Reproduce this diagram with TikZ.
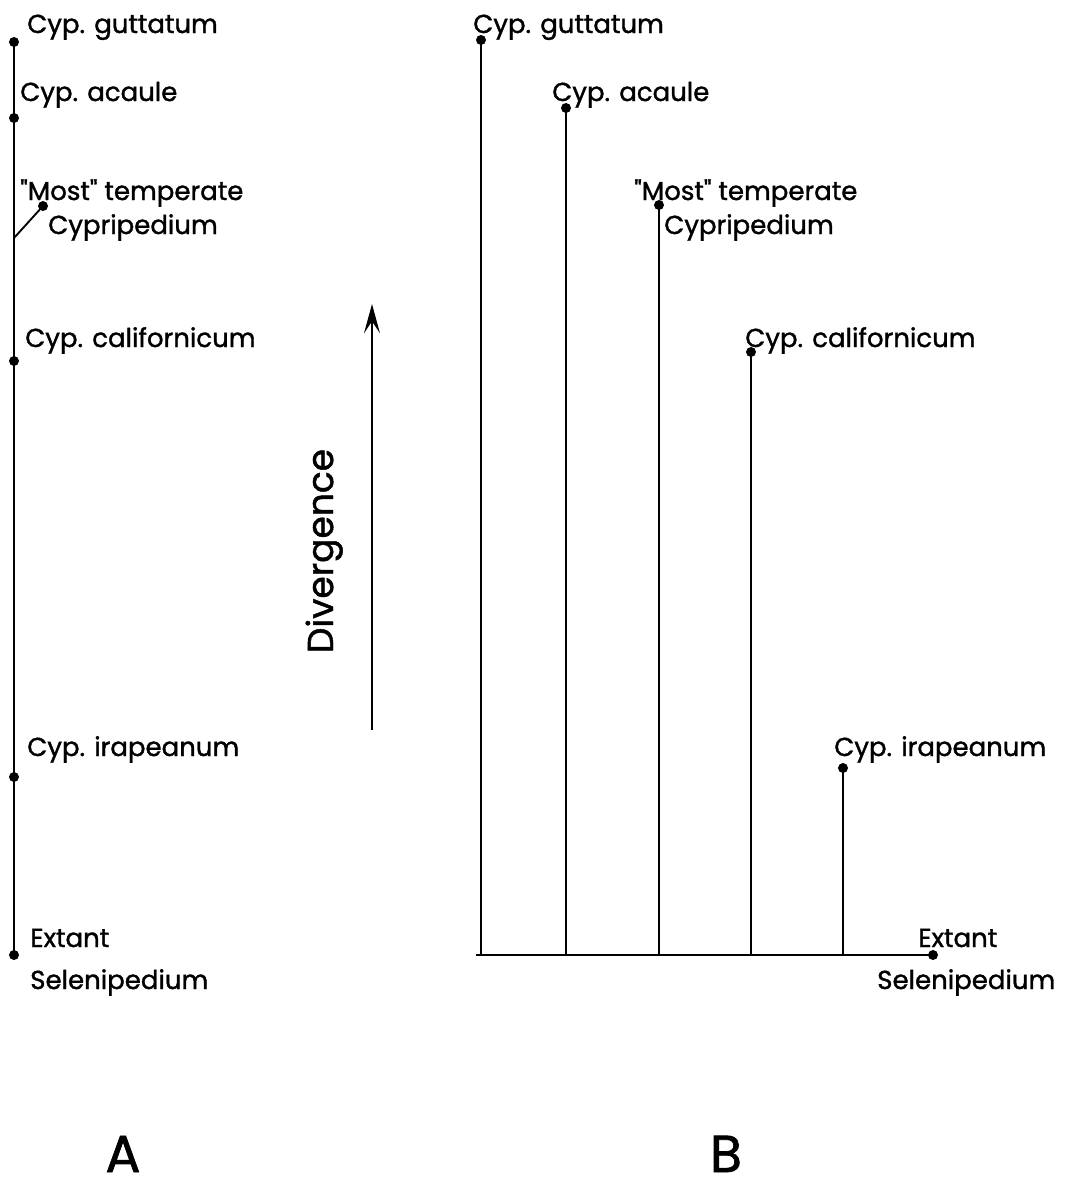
\documentclass[tikz,border=0pt]{standalone}
\usepackage{fontspec}
\setmainfont{Poppins}
\newfontfamily\labfont{Poppins}[FakeBold=1.3]
\usetikzlibrary{arrows.meta}
\tikzset{
  lbl/.style={inner sep=0pt, anchor=base west, font=\labfont\fontsize{19.5}{19.5}\selectfont},
  dotnode/.style={circle, fill=black, inner sep=0pt, minimum size=7.5pt},
  stem/.style={line width=1.4pt},
  panel/.style={inner sep=0pt, anchor=base, font=\labfont\fontsize{39}{39}\selectfont},
}
\begin{document}
\begin{tikzpicture}[x=0.75pt,y=-0.75pt]
\useasboundingbox (0,0) rectangle (1068,1183);
% ---------- Panel A ----------
\node[dotnode] (a1) at (14,42) {};
\node[dotnode] (a2) at (14,118) {};
\node[dotnode] (a3) at (43,206) {};
\coordinate (aB) at (14,238);
\node[dotnode] (a4) at (14,361) {};
\node[dotnode] (a5) at (14,777) {};
\node[dotnode] (a6) at (14,955) {};
\draw[stem] (a1.center) -- (a6.center);
\draw[stem] (aB) -- (a3.center);
\node[lbl] (ta1) at (27,33) {Cyp. guttatum};
\node[lbl] (ta2) at (20,101) {Cyp. acaule};
\node[lbl] (ta3) at (20,200) {"Most" temperate};
\node[lbl] (ta3b) at (48,234) {Cypripedium};
\node[lbl] (ta4) at (25,347) {Cyp. californicum};
\node[lbl] (ta5) at (27,756) {Cyp. irapeanum};
\node[lbl] (ta6) at (30,947) {Extant};
\node[lbl] (ta6b) at (30,989) {Selenipedium};
% ---------- Divergence arrow ----------
\coordinate (dv0) at (372,730);
\coordinate (dv1) at (372,304);
\draw[stem, -{Stealth[length=22pt,width=12pt,inset=9pt]}] (dv0) -- (dv1);
\node[rotate=90, anchor=base, inner sep=0pt, font=\labfont\fontsize{27}{27}\selectfont] (div) at (333,551) {Divergence};
% ---------- Panel B ----------
\coordinate (b0) at (476,955);
\node[dotnode] (be) at (933,955) {};
\node[dotnode] (b1) at (481,40) {};
\node[dotnode] (b2) at (566,108) {};
\node[dotnode] (b3) at (659,205) {};
\node[dotnode] (b4) at (751,352) {};
\node[dotnode] (b5) at (843,768) {};
\coordinate (f1) at (481,955);
\coordinate (f2) at (566,955);
\coordinate (f3) at (659,955);
\coordinate (f4) at (751,955);
\coordinate (f5) at (843,955);
\draw[stem] (b0) -- (be.center);
\foreach \i in {1,...,5} { \draw[stem] (b\i.center) -- (f\i); }
\node[lbl] (tb1) at (473,33) {Cyp. guttatum};
\node[lbl] (tb2) at (552,101) {Cyp. acaule};
\node[lbl] (tb3) at (634,200) {"Most" temperate};
\node[lbl] (tb3b) at (664,234) {Cypripedium};
\node[lbl] (tb4) at (745,347) {Cyp. californicum};
\node[lbl] (tb5) at (834,756) {Cyp. irapeanum};
\node[lbl] (tb6) at (918,947) {Extant};
\node[lbl] (tb6b) at (877,989) {Selenipedium};
% ---------- Panel letters ----------
\node[panel] (LA) at (123,1172) {A};
\node[panel] (LB) at (726,1172) {B};
\end{tikzpicture}
\end{document}
